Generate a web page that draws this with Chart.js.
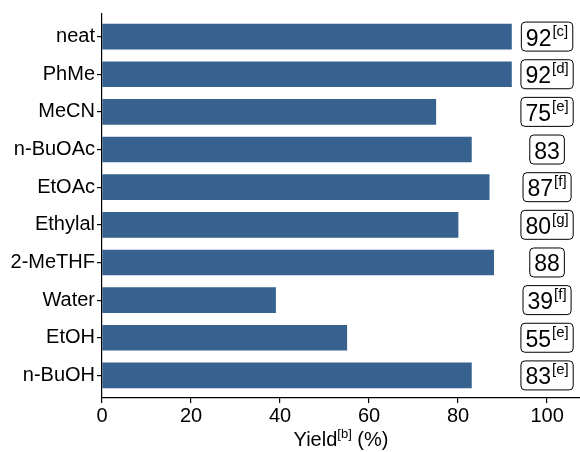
<!DOCTYPE html>
<html>
<head>
<meta charset="utf-8">
<script src="https://cdn.jsdelivr.net/npm/chart.js@4.4.1/dist/chart.umd.min.js"></script>
<style>
  html, body { margin: 0; padding: 0; background: #fff; }
</style>
</head>
<body>
<canvas id="chart" width="580" height="452"></canvas>
<script>
// Dados do gráfico
const solvents = ['neat', 'PhMe', 'MeCN', 'n-BuOAc', 'EtOAc', 'Ethylal', '2-MeTHF', 'Water', 'EtOH', 'n-BuOH'];
const yields = [92, 92, 75, 83, 87, 80, 88, 39, 55, 83];
const notes = ['c', 'd', 'e', '', 'f', 'g', '', 'f', 'e', 'e'];
const xTicks = [0, 20, 40, 60, 80, 100];

const FONT = '"Liberation Sans", Arial, sans-serif';
Chart.defaults.font.family = FONT;

// Caixas com os rendimentos à direita
const boxLabels = {
    id: 'boxLabels',
    afterDatasetsDraw(chart) {
        const { ctx, scales: { x, y } } = chart;
        const cx = x.getPixelForValue(100);
        yields.forEach((v, i) => {
            const cy = y.getPixelForValue(i);
            const main = String(v);
            const sup = notes[i] ? '[' + notes[i] + ']' : '';
            ctx.save();
            ctx.font = '23px ' + FONT;
            const wMain = ctx.measureText(main).width;
            ctx.font = '15px ' + FONT;
            const wSup = sup ? ctx.measureText(sup).width + 1 : 0;
            const w = wMain + wSup + 9;
            const h = 29;
            const left = cx - w / 2;
            ctx.beginPath();
            ctx.roundRect(left, cy - h / 2, w, h, 4);
            ctx.fillStyle = '#fff';
            ctx.fill();
            ctx.lineWidth = 1;
            ctx.strokeStyle = '#000';
            ctx.stroke();
            ctx.fillStyle = '#000';
            ctx.textBaseline = 'alphabetic';
            ctx.font = '23px ' + FONT;
            ctx.fillText(main, left + 4.5, cy + 9);
            if (sup) {
                ctx.font = '15px ' + FONT;
                ctx.fillText(sup, left + 4.5 + wMain + 1, cy - 1);
            }
            ctx.restore();
        });
    }
};

// Título do eixo x com sobrescrito
const xTitle = {
    id: 'xTitle',
    afterDraw(chart) {
        const { ctx, chartArea } = chart;
        const parts = [['Yield', 20, 0], ['[b]', 13, -8], [' (%)', 20, 0]];
        ctx.save();
        ctx.fillStyle = '#000';
        let total = 0;
        parts.forEach(p => { ctx.font = p[1] + 'px ' + FONT; total += ctx.measureText(p[0]).width; });
        let px = (chartArea.left + chartArea.right) / 2 - total / 2;
        parts.forEach(p => {
            ctx.font = p[1] + 'px ' + FONT;
            ctx.fillText(p[0], px, 446 + p[2]);
            px += ctx.measureText(p[0]).width;
        });
        ctx.restore();
    }
};

const axisGrid = {
    display: true,
    drawOnChartArea: false,
    drawTicks: true,
    offset: false,
    tickLength: 5,
    color: '#000',
    lineWidth: 1.2
};

new Chart(document.getElementById('chart'), {
    type: 'bar',
    data: {
        datasets: [{
            data: yields.map((v, i) => ({ x: v, y: i })),
            backgroundColor: '#37628f',
            barThickness: 25
        }]
    },
    options: {
        indexAxis: 'y',
        responsive: false,
        animation: false,
        layout: { padding: { top: 12, right: 0, left: 0, bottom: 0 } },
        plugins: {
            legend: { display: false },
            tooltip: { enabled: false }
        },
        scales: {
            x: {
                type: 'linear',
                min: 0,
                max: 107.4,
                afterBuildTicks: s => { s.ticks = xTicks.map(v => ({ value: v })); },
                afterFit: s => { s.height = 54; },
                grid: axisGrid,
                border: { display: true, color: '#000', width: 1.2 },
                ticks: { color: '#000', font: { size: 20 }, padding: 1, maxRotation: 0 }
            },
            y: {
                type: 'linear',
                reverse: true,
                offset: false,
                min: -0.6,
                max: 9.6,
                afterBuildTicks: s => { s.ticks = solvents.map((_, i) => ({ value: i })); },
                afterFit: s => { s.width = 102; },
                grid: axisGrid,
                border: { display: true, color: '#000', width: 1.2 },
                ticks: {
                    color: '#000',
                    font: { size: 20 },
                    padding: 2,
                    callback: v => solvents[v]
                }
            }
        }
    },
    plugins: [boxLabels, xTitle]
});
</script>
</body>
</html>
